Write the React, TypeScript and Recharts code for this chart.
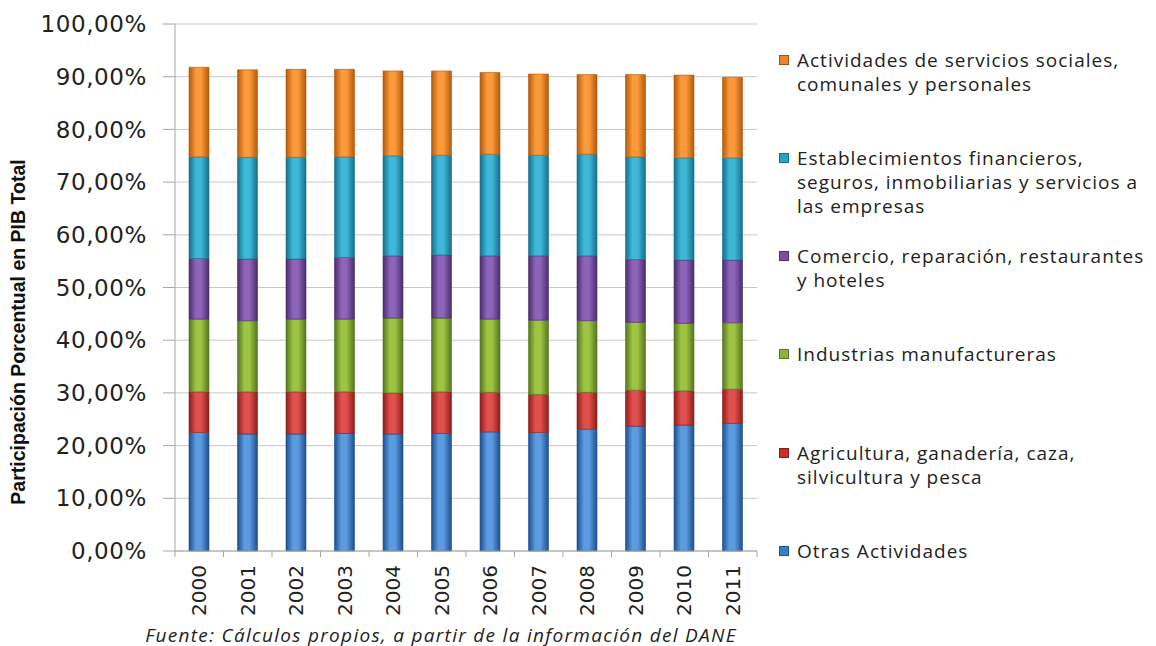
import { BarChart, Bar, XAxis, YAxis, CartesianGrid } from 'recharts'

const years = ['2000', '2001', '2002', '2003', '2004', '2005', '2006', '2007', '2008', '2009', '2010', '2011']

const otras = [22.5, 22.2, 22.2, 22.3, 22.2, 22.3, 22.6, 22.5, 23.1, 23.7, 23.9, 24.2]
const agricultura = [7.7, 8.0, 8.0, 7.9, 7.8, 7.9, 7.5, 7.2, 7.0, 6.8, 6.5, 6.5]
const industrias = [13.8, 13.5, 13.8, 13.8, 14.2, 14.0, 13.9, 14.1, 13.6, 12.9, 12.8, 12.6]
const comercio = [11.5, 11.7, 11.4, 11.7, 11.8, 12.0, 12.0, 12.2, 12.3, 11.9, 12.0, 11.9]
const establecimientos = [19.3, 19.3, 19.3, 19.1, 19.0, 18.9, 19.3, 19.1, 19.3, 19.5, 19.4, 19.4]
const actividades = [17.0, 16.6, 16.7, 16.6, 16.1, 16.0, 15.5, 15.4, 15.1, 15.6, 15.7, 15.3]

const yTicks = [0, 10, 20, 30, 40, 50, 60, 70, 80, 90, 100]

const series = [
  { key: 'otras', name: 'Otras Actividades', values: otras, light: '#5b9be0', dark: '#1f4f8f' },
  { key: 'agricultura', name: 'Agricultura, ganadería, caza, silvicultura y pesca', values: agricultura, light: '#e0504c', dark: '#8e1e1b' },
  { key: 'industrias', name: 'Industrias manufactureras', values: industrias, light: '#9dc443', dark: '#56761f' },
  { key: 'comercio', name: 'Comercio, reparación, restaurantes y hoteles', values: comercio, light: '#8d64b8', dark: '#4a2d6e' },
  { key: 'establecimientos', name: 'Establecimientos financieros, seguros, inmobiliarias y servicios a las empresas', values: establecimientos, light: '#3fb8d8', dark: '#14708a' },
  { key: 'actividades', name: 'Actividades de servicios sociales, comunales y personales', values: actividades, light: '#fb9a3a', dark: '#b35a0c' },
]

// legend entries, top to bottom
const legendItems = [
  { color: '#e8842a', lines: ['Actividades de servicios sociales,', 'comunales y personales'], top: 48 },
  { color: '#2aa4c4', lines: ['Establecimientos financieros,', 'seguros, inmobiliarias y servicios a', 'las empresas'], top: 146 },
  { color: '#7a4fa0', lines: ['Comercio, reparación, restaurantes', 'y hoteles'], top: 244 },
  { color: '#8db33a', lines: ['Industrias manufactureras'], top: 342 },
  { color: '#c9302c', lines: ['Agricultura, ganadería, caza,', 'silvicultura y pesca'], top: 441 },
  { color: '#3a7dc8', lines: ['Otras Actividades'], top: 539 },
]

const data = years.map((year, i) => {
  const row: any = { year }
  series.forEach(s => { row[s.key] = s.values[i] })
  return row
})

const fmt = (v: number) => v.toFixed(2).replace('.', ',') + '%'

const YearTick = (props: any) => {
  const { x, y, payload } = props
  const half = payload.offset || 24
  return (
    <g>
      <line x1={x - half} y1={y - 8} x2={x - half} y2={y - 2} stroke="#a6a6a6" />
      {payload.index === years.length - 1 && (
        <line x1={x + half} y1={y - 8} x2={x + half} y2={y - 2} stroke="#a6a6a6" />
      )}
      <text
        x={x}
        y={y + 6}
        transform={`rotate(-90, ${x}, ${y + 6})`}
        textAnchor="end"
        dominantBaseline="central"
        fill="#222"
        fontSize={20}
        fontFamily="DejaVu Sans"
      >
        {payload.value}
      </text>
    </g>
  )
}

export default function App() {
  return (
    <div style={{ position: 'absolute', top: 0, left: 0, width: 1156, height: 646, background: '#fff', fontFamily: '"Open Sans", sans-serif' }}>
      <BarChart width={1156} height={646} data={data} margin={{ top: 24, right: 399, left: 0, bottom: 0 }} barSize={20}>
        <defs>
          {series.map(s => (
            <linearGradient key={s.key} id={`g-${s.key}`} x1="0" y1="0" x2="1" y2="0">
              <stop offset="0%" stopColor={s.dark} />
              <stop offset="35%" stopColor={s.light} />
              <stop offset="60%" stopColor={s.light} />
              <stop offset="100%" stopColor={s.dark} />
            </linearGradient>
          ))}
        </defs>
        <CartesianGrid vertical={false} stroke="#c8c8c8" />
        <XAxis
          dataKey="year"
          height={95}
          tickLine={false}
          axisLine={{ stroke: '#a6a6a6' }}
          tick={<YearTick />}
          interval={0}
        />
        <YAxis
          width={175}
          domain={[0, 100]}
          ticks={yTicks}
          tickFormatter={fmt}
          tickSize={12}
          tickMargin={16}
          tickLine={{ stroke: '#a6a6a6' }}
          axisLine={{ stroke: '#a6a6a6' }}
          tick={{ fill: '#222', fontSize: 23, fontFamily: 'DejaVu Sans', letterSpacing: 0.6 }}
        />
        {series.map(s => (
          <Bar
            key={s.key}
            dataKey={s.key}
            name={s.name}
            stackId="a"
            fill={`url(#g-${s.key})`}
            stroke={s.dark}
            strokeWidth={0.6}
            isAnimationActive={false}
          />
        ))}
      </BarChart>

      <div
        style={{
          position: 'absolute',
          left: 18,
          top: 332,
          transform: 'translate(-50%, -50%) rotate(-90deg)',
          whiteSpace: 'nowrap',
          fontFamily: '"Liberation Sans Narrow", "Liberation Sans", sans-serif',
          fontWeight: 'bold',
          fontSize: 19.5,
          color: '#111',
        }}
      >
        Participación Porcentual en PIB Total
      </div>

      {legendItems.map((item, i) => (
        <div key={i} style={{ position: 'absolute', left: 779, top: item.top, fontSize: 19, letterSpacing: 1, lineHeight: '24px', color: '#222' }}>
          <span style={{ position: 'absolute', left: 0, top: 7, width: 10, height: 10, background: item.color, border: '1px solid rgba(0,0,0,0.35)', boxSizing: 'border-box' }} />
          <div style={{ marginLeft: 18, whiteSpace: 'nowrap' }}>
            {item.lines.map((l, j) => <div key={j}>{l}</div>)}
          </div>
        </div>
      ))}

      <div
        style={{
          position: 'absolute',
          left: 441,
          top: 635,
          transform: 'translate(-50%, -50%)',
          whiteSpace: 'nowrap',
          fontStyle: 'italic',
          fontSize: 19,
          letterSpacing: 1.3,
          color: '#222',
        }}
      >
        Fuente: Cálculos propios, a partir de la información del DANE
      </div>
    </div>
  )
}
